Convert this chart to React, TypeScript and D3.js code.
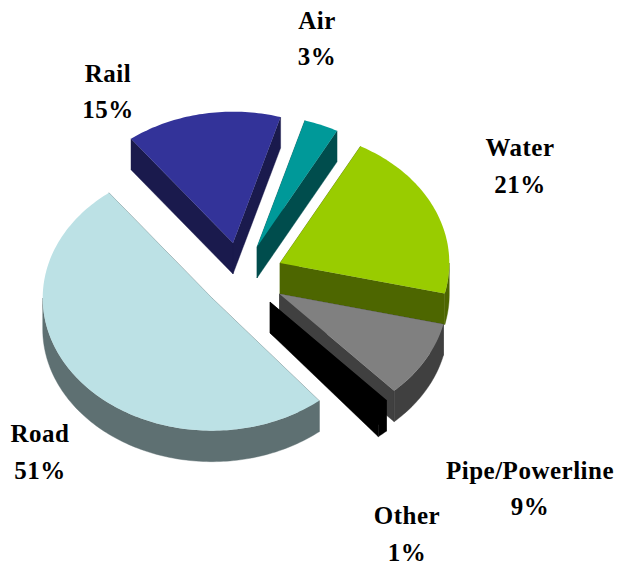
import React from "react";
import * as d3 from "d3";

const categories = ["Rail", "Air", "Water", "Pipe/Powerline", "Other", "Road"];
const shares = [15.0, 3.3, 20.8, 9.4, 1.0, 50.5];
const topColors = ["#333399", "#009999", "#99CC00", "#808080", "#000000", "#BCE1E5"];
const sideColors = ["#1A1A4D", "#004D4D", "#4D6600", "#404040", "#000000", "#5E7072"];

// layout
const W = 618, H = 565;
const RX = 171, RY = 134, DEPTH = 31;
const TAU = 2 * Math.PI;
const START = (322.5 * Math.PI) / 180;
const apexes: Record<string, [number, number]> = {
  Rail: [233, 243], Air: [257, 247], Water: [280, 263],
  "Pipe/Powerline": [279.5, 294], Other: [270, 302], Road: [212, 298],
};
const radiusScale: Record<string, number> = {
  Rail: 0.98, Air: 0.985, Water: 0.99, "Pipe/Powerline": 0.985, Other: 1, Road: 0.99,
};
const labelAt: Record<string, [number, number, number]> = {
  Rail: [108, 82, 118], Air: [317, 29, 65], Water: [520, 156, 193],
  "Pipe/Powerline": [530, 479, 515], Other: [407, 524, 561], Road: [40, 442, 479],
};
const drawOrder = ["Rail", "Air", "Road", "Water", "Pipe/Powerline", "Other"];

const line = d3.line<[number, number]>().x(d => d[0]).y(d => d[1]);

function rim(c: [number, number], a0: number, a1: number, k: number, dy = 0): [number, number][] {
  const n = Math.max(2, Math.ceil(Math.abs(a1 - a0) / 0.02));
  return d3.range(n + 1).map(i => {
    const a = a0 + ((a1 - a0) * i) / n;
    return [c[0] + k * RX * Math.sin(a), c[1] - k * RY * Math.cos(a) + dy] as [number, number];
  });
}

export default function App() {
  const arcs = d3.pie<number>().sort(null).startAngle(START).endAngle(START + TAU)(shares);
  const byName = new Map(categories.map((c, i) => [c, { arc: arcs[i], i }]));
  return (
    <svg width={W} height={H} viewBox={`0 0 ${W} ${H}`}
      style={{ position: "absolute", left: 0, top: 0, background: "#fff" }}>
      {drawOrder.map(name => {
        const { arc, i } = byName.get(name)!;
        const c = apexes[name];
        const k = radiusScale[name];
        const shift = arc.startAngle >= TAU ? TAU : 0;
        const a0 = arc.startAngle - shift, a1 = arc.endAngle - shift;
        const top = rim(c, a0, a1, k);
        const walls: [number, number][][] = [];
        const s = top[0], e = top[top.length - 1];
        walls.push([c, s, [s[0], s[1] + DEPTH], [c[0], c[1] + DEPTH]]);
        walls.push([c, e, [e[0], e[1] + DEPTH], [c[0], c[1] + DEPTH]]);
        const v0 = Math.max(a0, Math.PI / 2), v1 = Math.min(a1, (3 * Math.PI) / 2);
        if (v1 > v0) {
          walls.push([...rim(c, v0, v1, k), ...rim(c, v1, v0, k, DEPTH)]);
        }
        return (
          <g key={name}>
            {walls.map((w, j) => (
              <path key={j} d={line(w)! + "Z"} fill={sideColors[i]} stroke={sideColors[i]} strokeWidth={0.4} />
            ))}
            <path d={line([c, ...top])! + "Z"} fill={topColors[i]} />
          </g>
        );
      })}
      {categories.map((name, i) => {
        const [x, y1, y2] = labelAt[name];
        return (
          <text key={name} textAnchor="middle" fontFamily="'Liberation Serif', serif"
            fontWeight="bold" fontSize={25} letterSpacing={0.5} fill="#000">
            <tspan x={x} y={y1}>{name}</tspan>
            <tspan x={x} y={y2}>{Math.round(shares[i])}%</tspan>
          </text>
        );
      })}
    </svg>
  );
}
